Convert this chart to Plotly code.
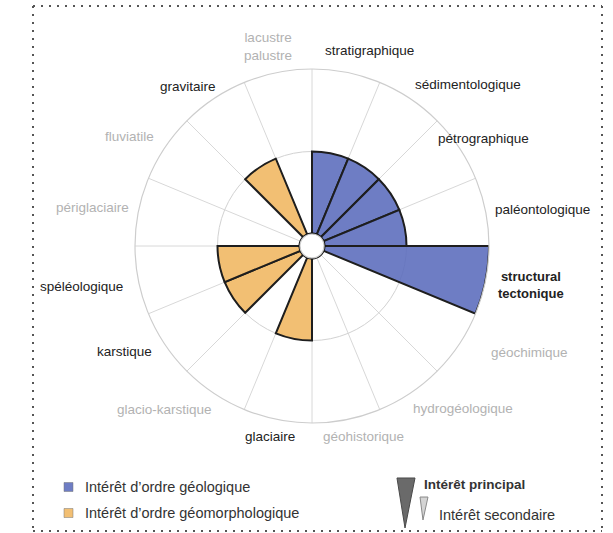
import math
import plotly.graph_objects as go

# --- données -------------------------------------------------------------
secteurs = [
    "stratigraphique", "sédimentologique", "pétrographique", "paléontologique",
    "structural<br>tectonique", "géochimique", "hydrogéologique", "géohistorique",
    "glaciaire", "glacio-karstique", "karstique", "spéléologique",
    "périglaciaire", "fluviatile", "gravitaire", "lacustre<br>palustre",
]
# 0 = aucun intérêt, 1 = intérêt secondaire, 2 = intérêt principal
interet_geologique = [1, 1, 1, 1, 2, 0, 0, 0, 0, 0, 0, 0, 0, 0, 0, 0]
interet_geomorpho = [0, 0, 0, 0, 0, 0, 0, 0, 1, 0, 1, 1, 0, 0, 1, 0]

legende_types = ["Intérêt d\u2019ordre géologique", "Intérêt d\u2019ordre géomorphologique"]
legende_niveaux = ["Intérêt principal", "Intérêt secondaire"]

# --- mise en page --------------------------------------------------------
W, H = 613, 533
BLEU = "rgba(90,107,188,0.88)"
ORANGE = "rgba(240,182,96,0.88)"
FONT = "Liberation Sans, Arial, sans-serif"

pas = 360 / len(secteurs)
angles = [i * pas + pas / 2 for i in range(len(secteurs))]

CX, CY, R_PX, HOLE_PX = 312, 246, 177, 12
# placement des étiquettes (angle, distance au centre en px)
etiq_theta = [16.5, 44, 58, 81, 100, 116, 137, 164.7, 192.5, 222, 240.5, 260, 280, 301, 322, 347.5]
etiq_rpx = [204, 225, 202, 233, 222, 242, 222, 197, 195, 220, 215, 234, 223, 213, 202, 204]


def px(x, y):
    return x / W, 1 - y / H


fig = go.Figure()

for valeurs, couleur in [(interet_geologique, BLEU), (interet_geomorpho, ORANGE)]:
    th = [a for a, v in zip(angles, valeurs) if v > 0]
    rr = [v for v in valeurs if v > 0]
    fig.add_trace(go.Barpolar(
        r=rr, theta=th, width=[pas] * len(rr),
        marker=dict(color=couleur, line=dict(color="#1e1e1e", width=2)),
        showlegend=False, hoverinfo="skip",
    ))

# cercle central
fig.add_trace(go.Scatterpolar(
    r=[0] * 121, theta=[i * 3 for i in range(121)], mode="lines",
    line=dict(color="#111111", width=3), cliponaxis=False,
    showlegend=False, hoverinfo="skip",
))

# étiquettes des secteurs
actifs = [max(a, b) for a, b in zip(interet_geologique, interet_geomorpho)]
for s, v, th, rp in zip(secteurs, actifs, etiq_theta, etiq_rpx):
    t = math.radians(th)
    p = px(CX + rp * math.sin(t), CY - rp * math.cos(t))
    fig.add_annotation(
        x=p[0], y=p[1], xref="paper", yref="paper",
        text=f"<b>{s}</b>" if v == 2 else s, showarrow=False,
        xanchor="center", yanchor="middle",
        font=dict(size=13 if v == 2 else 13.5, color="#222222" if v > 0 else "#b2b2b2"),
    )

x0, y1 = px(CX - R_PX, CY + R_PX)
x1, y0 = px(CX + R_PX, CY - R_PX)
fig.update_layout(
    width=W, height=H,
    margin=dict(l=0, r=0, t=0, b=0),
    paper_bgcolor="white",
    font=dict(family=FONT, color="#222222", size=12),
    polar=dict(
        domain=dict(x=[x0, x1], y=[y1, y0]),
        hole=HOLE_PX / R_PX,
        bgcolor="white",
        radialaxis=dict(range=[0, 2], tickvals=[1, 2], showticklabels=False, ticks="",
                        showline=False, gridcolor="#d2d2d2", gridwidth=1),
        angularaxis=dict(direction="clockwise", rotation=90,
                         tickvals=[i * pas for i in range(len(secteurs))],
                         showticklabels=False, ticks="", gridcolor="#d8d8d8",
                         showline=True, linecolor="#cdcdcd", linewidth=1.2),
    ),
)

# cadre pointillé
cadre = dict(color="#555555", width=2, dash="2px,6px")
for (xa, ya), (xb, yb) in [((33, 6), (602, 6)), ((33, 6), (33, 533)),
                           ((602, 6), (602, 533)), ((33, 531), (602, 531))]:
    a, b = px(xa, ya), px(xb, yb)
    fig.add_shape(type="line", xref="paper", yref="paper",
                  x0=a[0], y0=a[1], x1=b[0], y1=b[1], line=cadre)

# légende des types d'intérêt
for i, (txt, coul) in enumerate(zip(legende_types, [BLEU, ORANGE])):
    yc = 487 + i * 26
    a, b = px(64, yc - 4.5), px(73, yc + 4.5)
    fig.add_shape(type="rect", xref="paper", yref="paper",
                  x0=a[0], y0=b[1], x1=b[0], y1=a[1],
                  fillcolor=coul, line=dict(color="#777777", width=0.5))
    p = px(83, yc)
    fig.add_annotation(x=p[0], y=p[1], xref="paper", yref="paper", text=txt,
                       showarrow=False, xanchor="left", yanchor="middle",
                       font=dict(size=14.5, color="#333333"))


# légende des niveaux d'intérêt
def coin(xg, xd, yh, xp, yp):
    pts = [px(xg, yh), px(xd, yh), px(xp, yp)]
    return "M " + " L ".join(f"{x:.4f},{y:.4f}" for x, y in pts) + " Z"


fig.add_shape(type="path", xref="paper", yref="paper", path=coin(397, 415, 478, 405, 528),
              fillcolor="#6a6a6a", line=dict(color="#4a4a4a", width=1))
fig.add_shape(type="path", xref="paper", yref="paper", path=coin(420, 428, 497, 423, 520),
              fillcolor="#d4d4d4", line=dict(color="#8a8a8a", width=1))
for txt, (xx, yy), gras in zip(legende_niveaux, [(422, 484), (437, 515)], [True, False]):
    p = px(xx, yy)
    fig.add_annotation(x=p[0], y=p[1], xref="paper", yref="paper",
                       text=f"<b>{txt}</b>" if gras else txt,
                       showarrow=False, xanchor="left", yanchor="middle",
                       font=dict(size=13.5 if gras else 14.5, color="#333333"))

fig.write_html("out.html", config={"displayModeBar": False},
               post_script="document.body.style.margin='0';")
